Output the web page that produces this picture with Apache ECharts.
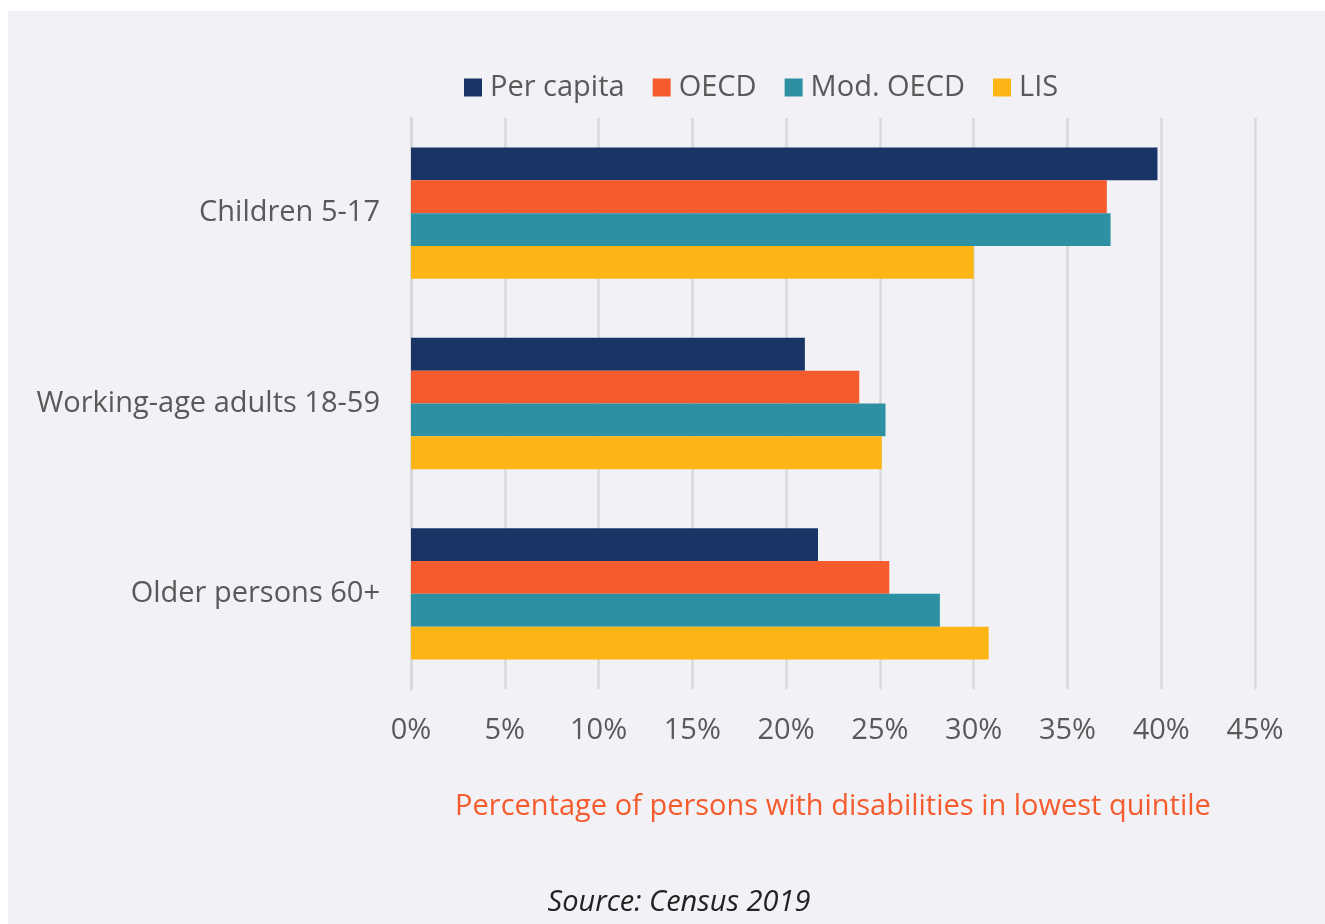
<!DOCTYPE html>
<html>
<head>
<meta charset="utf-8">
<script src="https://cdn.jsdelivr.net/npm/echarts@6/dist/echarts.min.js"></script>
<style>
  html, body { margin: 0; padding: 0; background: #ffffff; }
  #chart { position: absolute; left: 8px; top: 11px; width: 1317px; height: 913px; }
</style>
</head>
<body>
<div id="chart"></div>
<script>
const categories = ['Children 5-17', 'Working-age adults 18-59', 'Older persons 60+'];
const seriesNames = ['Per capita', 'OECD', 'Mod. OECD', 'LIS'];
const perCapita = [39.8, 21.0, 21.7];
const oecd = [37.1, 23.9, 25.5];
const modOecd = [37.3, 25.3, 28.2];
const lis = [30.0, 25.1, 30.8];
const colors = ['#193566', '#f55b2c', '#2e91a3', '#fdb515'];
const axisTitle = 'Percentage of persons with disabilities in lowest quintile';
const sourceText = 'Source: Census 2019';

const FONT = 'Open Sans';
const FS = 29;
const allData = [perCapita, oecd, modOecd, lis];

const chart = echarts.init(document.getElementById('chart'), null, { renderer: 'canvas' });
chart.setOption({
  backgroundColor: '#f2f1f6',
  animation: false,
  color: colors,
  textStyle: { fontFamily: FONT },
  legend: {
    top: 57,
    left: 451,
    itemWidth: 18,
    itemHeight: 18,
    itemGap: 28,
    icon: 'rect',
    textStyle: { fontFamily: FONT, fontSize: FS, color: '#595959', padding: [0, 0, 0, 3] },
    data: seriesNames
  },
  grid: { left: 403, right: 70, top: 107, bottom: 235 },
  xAxis: {
    type: 'value',
    min: 0,
    max: 45,
    interval: 5,
    axisLine: { show: false },
    axisTick: { show: false },
    splitLine: { show: true, lineStyle: { color: '#d9d9d9', width: 2.5 } },
    axisLabel: {
      formatter: v => v + '%',
      fontFamily: FONT, fontSize: FS, color: '#595959', margin: 27
    },
    name: axisTitle,
    nameLocation: 'middle',
    nameGap: 103,
    nameTextStyle: { fontFamily: FONT, fontSize: FS, color: '#f55b2c' }
  },
  yAxis: {
    type: 'category',
    inverse: true,
    data: categories,
    axisLine: { show: true, lineStyle: { color: '#d9d9d9', width: 3 } },
    axisTick: { show: false },
    axisLabel: { fontFamily: FONT, fontSize: FS, color: '#595959', margin: 31 }
  },
  series: seriesNames.map((n, i) => ({
    name: n,
    type: 'bar',
    data: allData[i],
    barGap: '0%',
    barCategoryGap: '31%',
    itemStyle: { color: colors[i] }
  })),
  graphic: [{
    type: 'text',
    x: 679 - 8,
    y: 903 - 11,
    style: {
      text: sourceText,
      font: 'italic ' + FS + 'px "Open Sans"',
      fill: '#222222',
      textAlign: 'center',
      textVerticalAlign: 'middle'
    }
  }]
});
</script>
</body>
</html>
